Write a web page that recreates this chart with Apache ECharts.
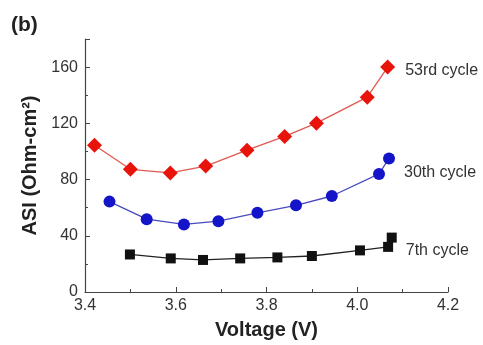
<!DOCTYPE html>
<html>
<head>
<meta charset="utf-8">
<script src="https://cdn.jsdelivr.net/npm/echarts@6/dist/echarts.min.js"></script>
<style>html,body{margin:0;padding:0;background:#fff}#c{width:483px;height:345px}</style>
</head>
<body>
<div id="c"></div>
<script>
const xTicks = [3.4, 3.6, 3.8, 4.0, 4.2];
const yTicks = [0, 40, 80, 120, 160];
const seriesNames = ['53rd cycle', '30th cycle', '7th cycle'];
const v53 = [3.421, 3.500, 3.588, 3.666, 3.757, 3.840, 3.910, 4.022, 4.067];
const asi53 = [104.4, 87.3, 84.7, 89.6, 100.9, 110.7, 120.1, 138.6, 160.0];
const v30 = [3.454, 3.536, 3.618, 3.694, 3.780, 3.865, 3.944, 4.048, 4.070];
const asi30 = [64.3, 51.8, 48.1, 50.4, 56.3, 61.7, 68.3, 84.0, 95.0];
const v7 = [3.499, 3.589, 3.660, 3.742, 3.824, 3.900, 4.006, 4.068, 4.076];
const asi7 = [26.7, 23.9, 22.8, 23.9, 24.6, 25.6, 29.6, 32.1, 38.7];

const FONT = '"Liberation Sans", Arial, sans-serif';
function pairs(xs, ys) { return xs.map((x, i) => [x, ys[i]]); }
function mkData(xs, ys, name, off) {
  return pairs(xs, ys).map((p, i) => {
    if (i === xs.length - 1) {
      return { value: p, label: { show: true, position: 'right', formatter: name,
        offset: off, fontSize: 16, fontFamily: FONT, color: '#333' } };
    }
    return p;
  });
}

const chart = echarts.init(document.getElementById('c'));
chart.setOption({
  animation: false,
  backgroundColor: '#fff',
  title: { text: '(b)', left: 6, top: 10, textStyle: { fontSize: 21, fontWeight: 'bold', fontFamily: FONT, color: '#222' } },
  grid: { left: 85, right: 35, top: 39, bottom: 51 },
  xAxis: {
    type: 'value', min: 3.4, max: 4.2, interval: 0.2,
    name: 'Voltage (V)', nameLocation: 'middle', nameGap: 28,
    nameTextStyle: { fontSize: 20, fontWeight: 'bold', fontFamily: FONT, color: '#222' },
    axisLine: { lineStyle: { color: '#444', width: 1.2 } },
    axisTick: { inside: true, length: 5, lineStyle: { color: '#444' } },
    minorTick: { show: true, splitNumber: 2, length: 3, lineStyle: { color: '#444' } },
    splitLine: { show: false },
    axisLabel: { fontSize: 16, fontFamily: FONT, color: '#333', margin: 6,
      formatter: v => { const t = xTicks.find(k => Math.abs(k - v) < 1e-6); return t === undefined ? '' : t.toFixed(1); } }
  },
  yAxis: {
    type: 'value', min: 0, max: 180, interval: 40,
    name: 'ASI (Ohm-cm²)', nameLocation: 'middle', nameGap: 38,
    nameTextStyle: { fontSize: 20, fontWeight: 'bold', fontFamily: FONT, color: '#222' },
    axisLine: { show: true, lineStyle: { color: '#444', width: 1.2 } },
    axisTick: { show: true, inside: true, length: 5, lineStyle: { color: '#444' } },
    minorTick: { show: true, splitNumber: 2, length: 3, lineStyle: { color: '#444' } },
    splitLine: { show: false },
    axisLabel: { fontSize: 16, fontFamily: FONT, color: '#333', margin: 7,
      formatter: v => yTicks.indexOf(v) >= 0 ? String(v) : '' }
  },
  series: [
    { name: seriesNames[0], type: 'line', data: mkData(v53, asi53, seriesNames[0], [5, 3]),
      symbol: 'diamond', symbolSize: 15, itemStyle: { color: '#e8140c' },
      lineStyle: { color: '#e05a50', width: 1.3 } },
    { name: seriesNames[1], type: 'line', data: mkData(v30, asi30, seriesNames[1], [4, 14]),
      symbol: 'circle', symbolSize: 12, itemStyle: { color: '#1414c8' },
      lineStyle: { color: '#4a4ac0', width: 1.3 } },
    { name: seriesNames[2], type: 'line', data: mkData(v7, asi7, seriesNames[2], [4, 13]),
      symbol: 'rect', symbolSize: 10, itemStyle: { color: '#111' },
      lineStyle: { color: '#222', width: 1.3 } }
  ]
});
</script>
</body>
</html>
